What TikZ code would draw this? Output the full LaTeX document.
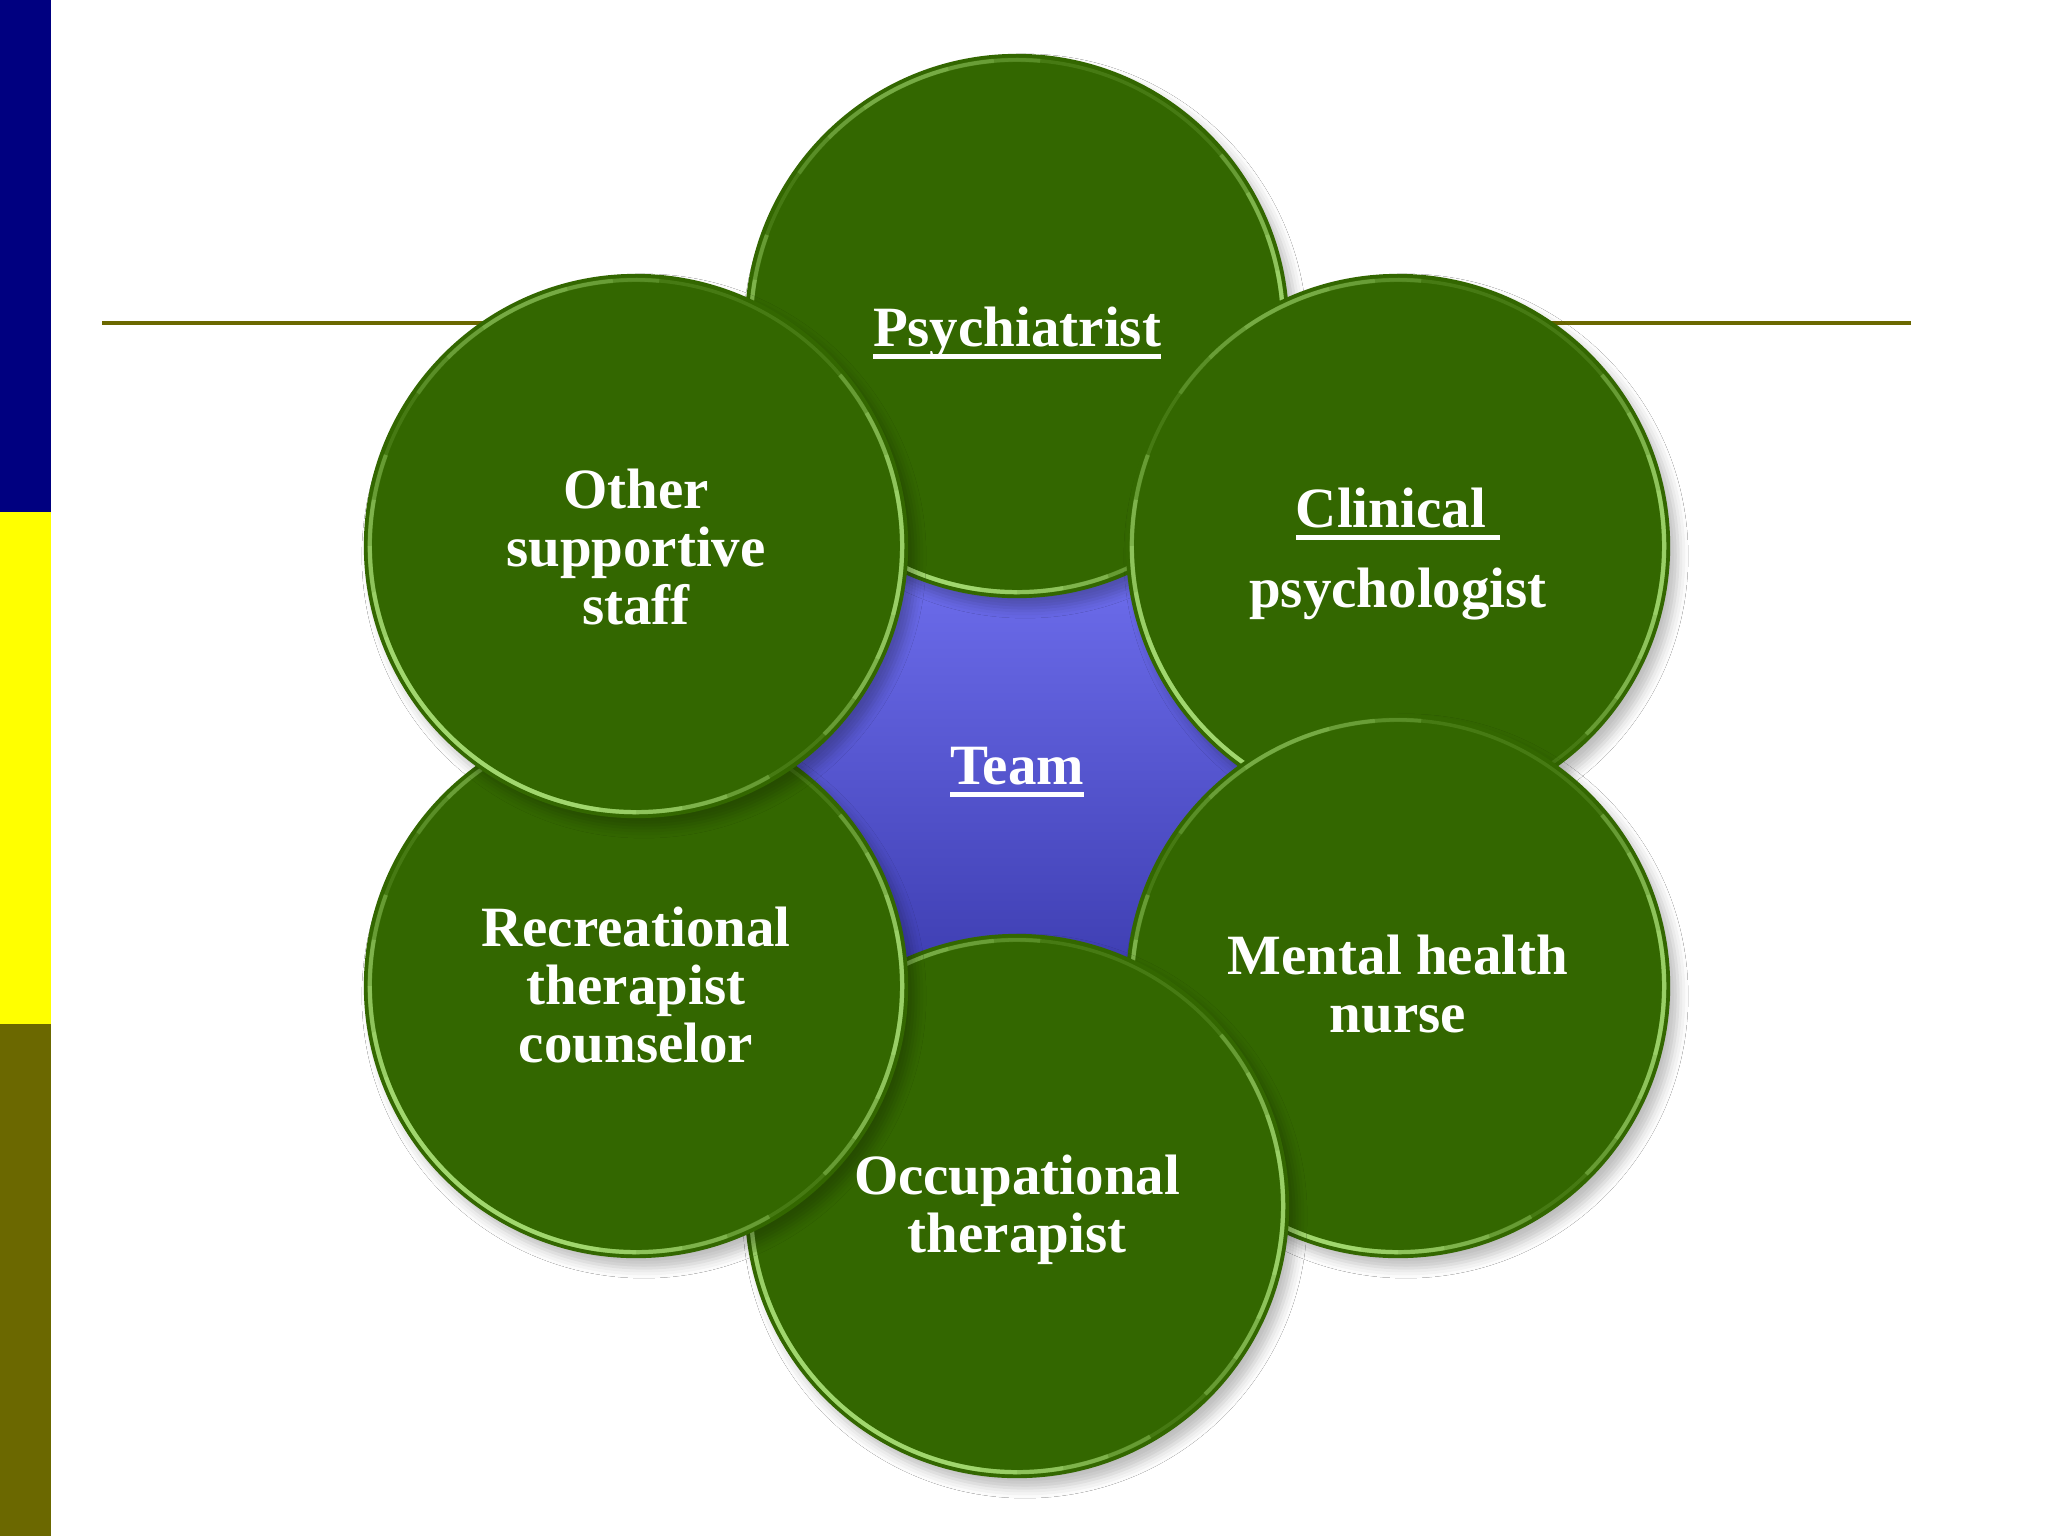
\documentclass[tikz,border=0pt]{standalone}
\usepackage{fontspec}
\setmainfont{Liberation Serif}
\usetikzlibrary{shadows.blur}
\definecolor{navybar}{RGB}{0,0,128}
\definecolor{yellowbar}{RGB}{255,255,0}
\definecolor{olivebar}{RGB}{107,104,0}
\definecolor{leaf}{RGB}{51,103,0}
\definecolor{rim}{RGB}{180,235,130}
\definecolor{hubtop}{RGB}{124,124,255}
\definecolor{hubbot}{RGB}{48,48,160}
\newcommand\myul[1]{\setbox0\hbox{#1}\rlap{\rule[-3.5pt]{\wd0}{1.3pt}}\box0}
\begin{document}
\begin{tikzpicture}[x=0.01cm,y=-0.01cm,
  rimarc/.style={rim, line width=1.2pt, opacity=0.3},
  member/.style={circle, minimum size=5.44cm, inner sep=0pt, fill=leaf, draw=none,
    blur shadow={shadow xshift=0.8mm, shadow yshift=-1.0mm, shadow blur radius=1.0mm, shadow opacity=25},
    path picture={
      \coordinate (pc) at (path picture bounding box.center);
      \draw[rim, line width=1.0pt, opacity=0.15] (pc) circle (2.66cm);
      \foreach \a/\b in {160/300,170/290,180/280,190/270,200/262}{
        \draw[rimarc] ([shift={(\a:2.66cm)}]pc) arc (\a:\b:2.66cm);}
      \foreach \a/\b in {-45/40,-35/30,-25/20,-15/12}{
        \draw[rimarc] ([shift={(\a:2.66cm)}]pc) arc (\a:\b:2.66cm);}
      \foreach \a/\b in {85/145,95/135,105/125}{
        \draw[rimarc, opacity=0.18] ([shift={(\a:2.66cm)}]pc) arc (\a:\b:2.66cm);}
    }},
  lbl/.style={text=white, align=center, inner sep=0pt,
    font=\fontsize{16.2}{16.5}\selectfont\bfseries}
]
\useasboundingbox (0,0) rectangle (2048,1536);
\fill[white] (0,0) rectangle (2048,1536);
% left bar
\fill[navybar] (0,0) rectangle (51,512);
\fill[yellowbar] (0,512) rectangle (51,1024);
\fill[olivebar] (0,1024) rectangle (51,1536);
% title rule
\coordinate (lineL) at (102,323);
\coordinate (lineR) at (1911,323);
\draw[olivebar, line width=1.3pt] (lineL) -- (lineR);
% hub
\node[circle, minimum size=6.6cm, inner sep=0pt, draw=none, top color=hubtop, bottom color=hubbot] (hub) at (1017,766) {};
% members (drawing order: top, upper right, lower right, bottom, lower left, upper left)
\node[member] (psych) at (1017,326) {};
\node[member] (clin)  at (1398,546) {};
\node[member] (nurse) at (1398,986) {};
\node[member] (occ)   at (1017,1206) {};
\node[member] (recr)  at (636,986) {};
\node[member] (other) at (636,546) {};
% labels
\node[lbl] (teamtext)  at ([yshift=-0.06cm]hub.center) {\myul{Team}};
\node[lbl] (psychtext) at ([yshift=-0.07cm]psych.center) {\myul{Psychiatrist}};
\node[lbl] (clintext)  at ([yshift=-0.08cm]clin.center) {\myul{Clinical\ }\\[6.3pt]psychologist};
\node[lbl] (nursetext) at ([yshift=0.02cm]nurse.center) {Mental health\\nurse};
\node[lbl] (occtext)   at ([yshift=-0.04cm]occ.center) {Occupational\\therapist};
\node[lbl] (recrtext)  at ([yshift=0.01cm]recr.center) {Recreational\\therapist\\counselor};
\node[lbl] (othertext) at ([yshift=-0.01cm]other.center) {Other\\supportive\\staff};
\end{tikzpicture}
\end{document}
